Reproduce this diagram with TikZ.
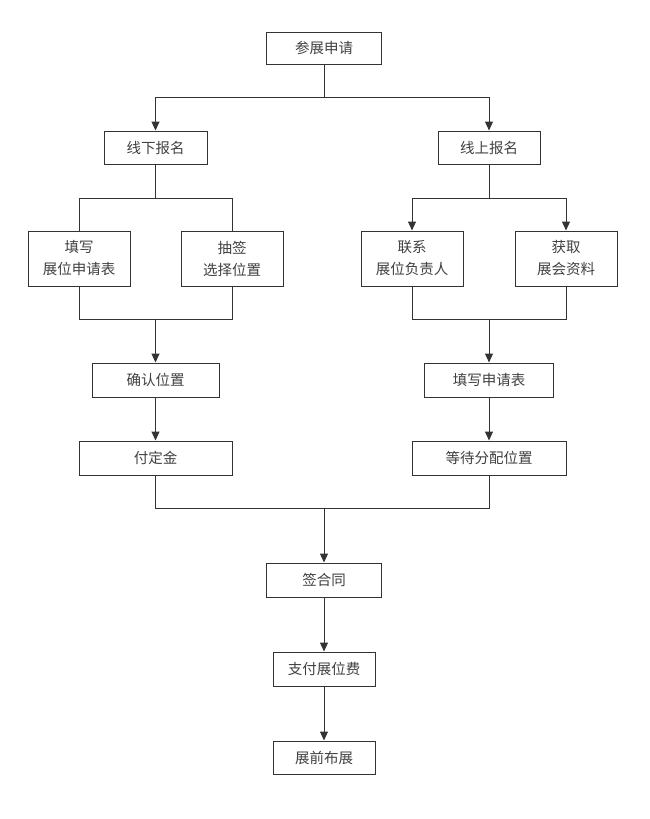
\documentclass[tikz,border=0pt]{standalone}
\usepackage{fontspec}
\setmainfont{Noto Sans CJK SC}
\usetikzlibrary{arrows.meta}

\begin{document}
\begin{tikzpicture}[
    x=1pt, y=-1pt,
    box/.style={draw=black!80, line width=1pt, inner sep=0pt, minimum height=34pt, align=center, text=black!75, font=\fontsize{14.5}{22}\selectfont},
    arr/.style={-{Triangle[length=9pt,width=8pt]}, line width=1pt, draw=black!80},
    lin/.style={line width=1pt, draw=black!80}
]
    \useasboundingbox (0,0) rectangle (650,819);

    % top
    \node[box, minimum width=115pt, minimum height=32pt] (req) at (324,48) {参展申请};

    % two ways
    \node[box, minimum width=103pt, minimum height=33pt] (offline) at (155.5,147.5) {线下报名};
    \node[box, minimum width=102pt, minimum height=33pt] (online) at (489,147.5) {线上报名};

    % offline branch
    \node[box, minimum width=102pt, minimum height=55pt] (fillin) at (79,258.5) {填写\\展位申请表};
    \node[box, minimum width=102pt, minimum height=55pt] (lottery) at (232,258.5) {抽签\\选择位置};
    \node[box, minimum width=127pt] (confirm) at (155.5,380) {确认位置};
    \node[box, minimum width=153pt] (deposit) at (155.5,458) {付定金};

    % online branch
    \node[box, minimum width=102pt, minimum height=55pt] (contact) at (412,258.5) {联系\\展位负责人};
    \node[box, minimum width=102pt, minimum height=55pt] (fetch) at (566,258.5) {获取\\展会资料};
    \node[box, minimum width=129pt] (form) at (489,380) {填写申请表};
    \node[box, minimum width=154pt] (wait) at (489,458) {等待分配位置};

    % common steps
    \node[box, minimum width=115pt] (sign) at (324,580) {签合同};
    \node[box, minimum width=102pt] (pay) at (324,669) {支付展位费};
    \node[box, minimum width=102pt, minimum height=33pt] (setup) at (324,757.5) {展前布展};

    % junctions
    \coordinate (jtop) at (324,97);
    \coordinate (joffa) at (155.5,198);
    \coordinate (joffb) at (155.5,319);
    \coordinate (jona) at (489,198);
    \coordinate (jonb) at (489,319);
    \coordinate (jbot) at (324,508);

    % connections
    \draw[lin] (req) -- (jtop);
    \draw[arr] (jtop) -| (offline);
    \draw[arr] (jtop) -| (online);

    \draw[lin] (offline) -- (joffa);
    \draw[lin] (joffa) -| (fillin);
    \draw[lin] (joffa) -| (lottery);
    \draw[lin] (fillin) |- (joffb);
    \draw[lin] (lottery) |- (joffb);
    \draw[arr] (joffb) -- (confirm);
    \draw[arr] (confirm) -- (deposit);

    \draw[lin] (online) -- (jona);
    \draw[arr] (jona) -| (contact);
    \draw[arr] (jona) -| (fetch);
    \draw[lin] (contact) |- (jonb);
    \draw[lin] (fetch) |- (jonb);
    \draw[arr] (jonb) -- (form);
    \draw[arr] (form) -- (wait);

    \draw[lin] (deposit) |- (jbot);
    \draw[lin] (wait) |- (jbot);
    \draw[arr] (jbot) -- (sign);
    \draw[arr] (sign) -- (pay);
    \draw[arr] (pay) -- (setup);
\end{tikzpicture}
\end{document}
